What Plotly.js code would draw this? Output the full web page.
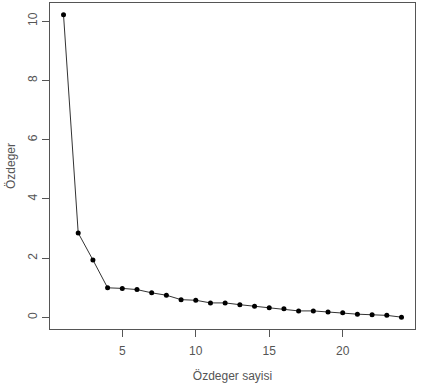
<!DOCTYPE html>
<html>
<head>
<meta charset="utf-8">
<script src="https://cdn.plot.ly/plotly-3.0.1.min.js"></script>
<style>html,body{margin:0;padding:0;background:#fff;}#chart{width:429px;height:386px;}</style>
</head>
<body>
<div id="chart"></div>
<script>
const componentNumbers = [1,2,3,4,5,6,7,8,9,10,11,12,13,14,15,16,17,18,19,20,21,22,23,24];
const eigenvalues = [10.21,2.85,1.94,1.00,0.98,0.94,0.83,0.75,0.60,0.58,0.49,0.49,0.43,0.38,0.33,0.29,0.22,0.22,0.18,0.16,0.11,0.09,0.07,0.01];
const xTickValues = [5,10,15,20];
const yTickValues = [0,2,4,6,8,10];
const xTitle = "Özdeger sayisi";
const yTitle = "Özdeger";

const textColor = "#555";
const trace = {
  x: componentNumbers,
  y: eigenvalues,
  type: "scatter",
  mode: "lines+markers",
  line: {color: "#333", width: 1},
  marker: {color: "#000", size: 5},
  hoverinfo: "skip"
};
const layout = {
  width: 429, height: 386,
  margin: {l: 50, r: 14, t: 3, b: 57},
  paper_bgcolor: "#fff", plot_bgcolor: "#fff",
  showlegend: false,
  font: {family: "Liberation Sans, Arial, sans-serif", size: 12, color: textColor},
  xaxis: {
    range: [0.08, 24.92],
    tickvals: xTickValues,
    ticktext: xTickValues.map(String),
    ticks: "outside", ticklen: 7, tickcolor: "#555",
    showgrid: false, zeroline: false,
    showline: true, mirror: true, linecolor: "#555", linewidth: 1,
    ticklabelstandoff: 4,
    title: {text: xTitle, standoff: 14, font: {size: 12, color: textColor}}
  },
  yaxis: {
    range: [-0.39, 10.61],
    tickvals: yTickValues,
    ticktext: yTickValues.map(String),
    tickangle: -90,
    ticks: "outside", ticklen: 7, tickcolor: "#555",
    showgrid: false, zeroline: false,
    showline: true, mirror: true, linecolor: "#555", linewidth: 1,
    title: {text: yTitle, standoff: 8, font: {size: 12, color: textColor}}
  }
};
Plotly.newPlot("chart", [trace], layout, {displayModeBar: false, staticPlot: true});
</script>
</body>
</html>
